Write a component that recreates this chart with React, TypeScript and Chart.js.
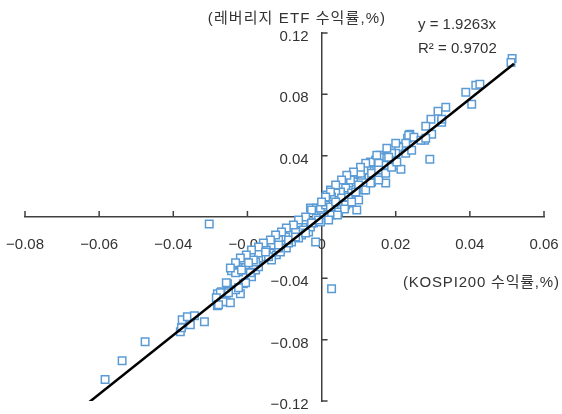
import React, { useEffect, useRef } from 'react';
import { Chart, registerables } from 'chart.js';

Chart.register(...registerables);

const xTicks = [-0.08, -0.06, -0.04, -0.02, 0, 0.02, 0.04, 0.06];
const yTicks = [-0.12, -0.08, -0.04, 0, 0.04, 0.08, 0.12];

const yAxisTitle = '(레버리지 ETF 수익률,%)';
const xAxisTitle = '(KOSPI200 수익률,%)';
const equationLines = ['y = 1.9263x', 'R² = 0.9702'];

// KOSPI200 daily return (x)
const kospiReturns = [
  -0.0584, -0.0538, -0.0476, -0.0381, -0.0376, -0.0362, -0.0343, -0.0354, -0.0316, -0.0378,
  -0.0281, -0.0281, -0.0270, -0.0257, -0.0254, -0.0243, -0.0219, -0.0211, -0.0232, -0.0224,
  -0.0211, -0.0189, -0.0178, -0.0170, -0.0303, 0.0027, 0.0292, -0.0203, -0.0184, -0.0219,
  -0.0232, -0.0192, -0.0205, -0.0224, -0.0257, -0.0251, -0.0273, -0.0284, -0.0265, -0.0246,
  -0.0278, -0.0030, -0.0014, 0.0000, 0.0014, 0.0024, 0.0019, 0.0005, 0.0019, -0.0062,
  -0.0043, -0.0068, -0.0089, -0.0084, -0.0108, -0.0116, -0.0103, -0.0130, -0.0138, -0.0151,
  -0.0157, -0.0170, -0.0178, -0.0197, -0.0205, -0.0211, -0.0043, -0.0014, -0.0022, -0.0003,
  -0.0054, -0.0035, -0.0081, -0.0095, -0.0122, -0.0135, -0.0111, -0.0016, 0.0159, 0.0173,
  0.0146, 0.0132, 0.0149, 0.0168, 0.0173, 0.0122, 0.0108, 0.0095, 0.0086, 0.0073,
  0.0100, 0.0065, 0.0051, 0.0038, 0.0027, 0.0005, -0.0003, 0.0081, 0.0095, 0.0073,
  0.0054, 0.0046, 0.0027, 0.0019, 0.0054, 0.0114, 0.0135, 0.0154, 0.0100, 0.0024,
  0.0014, 0.0314, 0.0335, 0.0324, 0.0295, 0.0281, 0.0297, 0.0278, 0.0238, 0.0232,
  0.0216, 0.0227, 0.0208, 0.0200, 0.0184, 0.0162, 0.0176, 0.0146, 0.0168, 0.0132,
  0.0200, 0.0514, 0.0511, 0.0389, 0.0416, 0.0427, 0.0405, 0.0324, -0.0030, -0.0049,
  -0.0070, -0.0097, -0.0116, -0.0135, -0.0149, -0.0170, -0.0184, -0.0143, -0.0116, -0.0089,
  -0.0062, 0.0235, 0.0249, 0.0268, 0.0189, 0.0181, 0.0154, 0.0114, 0.0105, 0.0078,
  0.0011, 0.0024, -0.0027, 0.0214, 0.0073, 0.0092, 0.0135, 0.0154, 0.0281, 0.0200,
  0.0176, 0.0149, 0.0119, 0.0105, 0.0086, 0.0068, 0.0054, 0.0038, 0.0024, 0.0011,
  0.0000, 0.0038, 0.0065, 0.0081, 0.0119, 0.0132, 0.0154, 0.0173, 0.0189, 0.0203,
  0.0227, 0.0243, -0.0043, -0.0062, -0.0076, -0.0095, -0.0108, -0.0124, -0.0138, -0.0157,
  -0.0170, -0.0189, -0.0203, -0.0219, -0.0232, -0.0246, -0.0008, -0.0027, -0.0089, -0.0070,
  -0.0043, -0.0116, -0.0151, -0.0197, -0.0216, 0.0062, 0.0043,
];

// Leveraged ETF daily return (y)
const etfReturns = [
  -0.1060, -0.0937, -0.0813, -0.0748, -0.0670, -0.0650, -0.0644, -0.0702, -0.0683, -0.0722,
  -0.0579, -0.0501, -0.0488, -0.0553, -0.0436, -0.0351, -0.0501, -0.0436, -0.0475, -0.0358,
  -0.0325, -0.0390, -0.0345, -0.0325, -0.0046, -0.0468, 0.0377, -0.0293, -0.0312, -0.0345,
  -0.0364, -0.0364, -0.0429, -0.0462, -0.0429, -0.0494, -0.0494, -0.0527, -0.0553, -0.0559,
  -0.0572, 0.0059, 0.0059, 0.0033, 0.0130, 0.0143, 0.0091, 0.0000, 0.0026, -0.0039,
  -0.0065, -0.0098, -0.0085, -0.0117, -0.0137, -0.0169, -0.0182, -0.0202, -0.0234, -0.0215,
  -0.0260, -0.0267, -0.0293, -0.0293, -0.0312, -0.0280, -0.0020, -0.0007, -0.0039, -0.0033,
  -0.0117, -0.0098, -0.0163, -0.0202, -0.0247, -0.0280, -0.0228, -0.0163, 0.0403, 0.0390,
  0.0371, 0.0351, 0.0325, 0.0306, 0.0221, 0.0306, 0.0273, 0.0286, 0.0228, 0.0221,
  0.0208, 0.0189, 0.0163, 0.0156, 0.0130, 0.0065, 0.0059, 0.0156, 0.0046, 0.0091,
  0.0078, 0.0033, 0.0013, -0.0020, 0.0124, 0.0176, 0.0228, 0.0260, 0.0111, 0.0176,
  0.0143, 0.0689, 0.0715, 0.0618, 0.0637, 0.0592, 0.0540, 0.0501, 0.0540, 0.0514,
  0.0462, 0.0481, 0.0455, 0.0416, 0.0416, 0.0390, 0.0384, 0.0358, 0.0338, 0.0358,
  0.0338, 0.1034, 0.1008, 0.0813, 0.0859, 0.0865, 0.0735, 0.0637, -0.0065, -0.0085,
  -0.0098, -0.0130, -0.0150, -0.0182, -0.0215, -0.0234, -0.0280, -0.0260, -0.0202, -0.0169,
  -0.0137, 0.0533, 0.0520, 0.0501, 0.0416, 0.0390, 0.0351, 0.0306, 0.0286, 0.0241,
  0.0078, 0.0065, 0.0046, 0.0312, 0.0130, 0.0163, 0.0286, 0.0306, 0.0514, 0.0481,
  0.0449, 0.0403, 0.0351, 0.0325, 0.0293, 0.0273, 0.0241, 0.0208, 0.0163, 0.0130,
  0.0098, 0.0098, 0.0078, 0.0098, 0.0176, 0.0221, 0.0241, 0.0286, 0.0325, 0.0358,
  0.0416, 0.0436, 0.0000, -0.0020, -0.0052, -0.0072, -0.0098, -0.0117, -0.0150, -0.0169,
  -0.0195, -0.0215, -0.0247, -0.0267, -0.0299, -0.0332, -0.0020, -0.0039, -0.0150, -0.0130,
  -0.0104, -0.0182, -0.0228, -0.0299, -0.0345, 0.0052, 0.0013,
];

// Trend line end points (y = 1.9263x)
const trendX = [-0.0635, 0.0519];
const trendY = [-0.1223, 0.1000];

const FONT = "'Liberation Sans', Arial, 'Noto Sans CJK KR', sans-serif";
const TEXT = '#333333';
const AXIS = '#404040';
const POINT = '#5B9BD5';

const fmt = (v: number) => {
  const r = Math.round(v * 100) / 100;
  if (r === 0) return '0';
  return (r < 0 ? '\u2212' : '') + Math.abs(r).toFixed(2);
};

const decor = {
  id: 'decor',
  beforeDatasetsDraw(chart: any) {
    const { ctx, scales } = chart;
    const x = scales.x, y = scales.y;
    const x0 = x.getPixelForValue(0);
    const y0 = y.getPixelForValue(0);
    ctx.save();
    ctx.strokeStyle = AXIS;
    ctx.lineWidth = 1.5;
    ctx.beginPath();
    xTicks.forEach((v) => {
      const px = x.getPixelForValue(v);
      ctx.moveTo(px, y0);
      ctx.lineTo(px, y0 - 6);
    });
    yTicks.forEach((v) => {
      const py = y.getPixelForValue(v);
      ctx.moveTo(x0, py);
      ctx.lineTo(x0 + 6, py);
    });
    ctx.stroke();
    ctx.fillStyle = TEXT;
    ctx.font = `15px ${FONT}`;
    ctx.textBaseline = 'middle';
    // x tick labels below the horizontal axis
    ctx.textAlign = 'center';
    xTicks.forEach((v) => {
      const px = x.getPixelForValue(v);
      ctx.fillText(fmt(v), px, y0 + 28);
    });
    // y tick labels, right-aligned left of the vertical axis
    ctx.textAlign = 'right';
    yTicks.forEach((v) => {
      const py = y.getPixelForValue(v);
      ctx.fillText(fmt(v), x0 - 13, py + 4);
    });
    ctx.restore();
  },
  afterDraw(chart: any) {
    const { ctx } = chart;
    ctx.save();
    ctx.fillStyle = TEXT;
    ctx.font = `15px ${FONT}`;
    ctx.textBaseline = 'middle';
    (ctx as any).letterSpacing = '1.1px';
    ctx.textAlign = 'center';
    ctx.fillText(yAxisTitle, 297, 19);
    (ctx as any).letterSpacing = '0.8px';
    ctx.textAlign = 'left';
    ctx.fillText(xAxisTitle, 403, 283);
    (ctx as any).letterSpacing = '0px';
    ctx.fillText(equationLines[0], 418, 25);
    ctx.fillText(equationLines[1], 418, 49);
    ctx.restore();
  },
};

export default function App() {
  const ref = useRef<HTMLCanvasElement>(null);
  useEffect(() => {
    if (!ref.current) return;
    const points = kospiReturns.map((v, i) => ({ x: v, y: etfReturns[i] }));
    const trend = trendX.map((v, i) => ({ x: v, y: trendY[i] }));
    const chart = new Chart(ref.current, {
      type: 'scatter',
      data: {
        datasets: [
          {
            type: 'line',
            data: trend,
            borderColor: '#000000',
            borderWidth: 2.5,
            pointRadius: 0,
            fill: false,
            order: 0,
          } as any,
          {
            type: 'scatter',
            data: points,
            pointStyle: 'rect',
            pointRadius: 5.3,
            pointBorderWidth: 1.5,
            borderColor: POINT,
            backgroundColor: '#ffffff',
            order: 1,
          } as any,
        ],
      },
      options: {
        responsive: false,
        animation: false,
        layout: { padding: { left: 25, right: 18, top: 33, bottom: 13 } },
        plugins: { legend: { display: false }, tooltip: { enabled: false } },
        scales: {
          x: {
            type: 'linear',
            position: { y: 0 } as any,
            min: -0.08,
            max: 0.06,
            afterBuildTicks: (s: any) => {
              s.ticks = xTicks.map((v) => ({ value: v }));
            },
            grid: { display: false, drawTicks: false, tickLength: 0 },
            border: { display: true, color: AXIS, width: 1.5 },
            ticks: { display: false },
          },
          y: {
            type: 'linear',
            position: { x: 0 } as any,
            min: -0.12,
            max: 0.12,
            afterBuildTicks: (s: any) => {
              s.ticks = yTicks.map((v) => ({ value: v }));
            },
            grid: { display: false, drawTicks: false, tickLength: 0 },
            border: { display: true, color: AXIS, width: 1.5 },
            ticks: { display: false },
          },
        },
      },
      plugins: [decor],
    });
    return () => chart.destroy();
  }, []);
  return (
    <div style={{ position: 'absolute', left: 0, top: 0, width: 562, height: 414 }}>
      <canvas ref={ref} width={562} height={414} style={{ display: 'block' }} />
    </div>
  );
}
